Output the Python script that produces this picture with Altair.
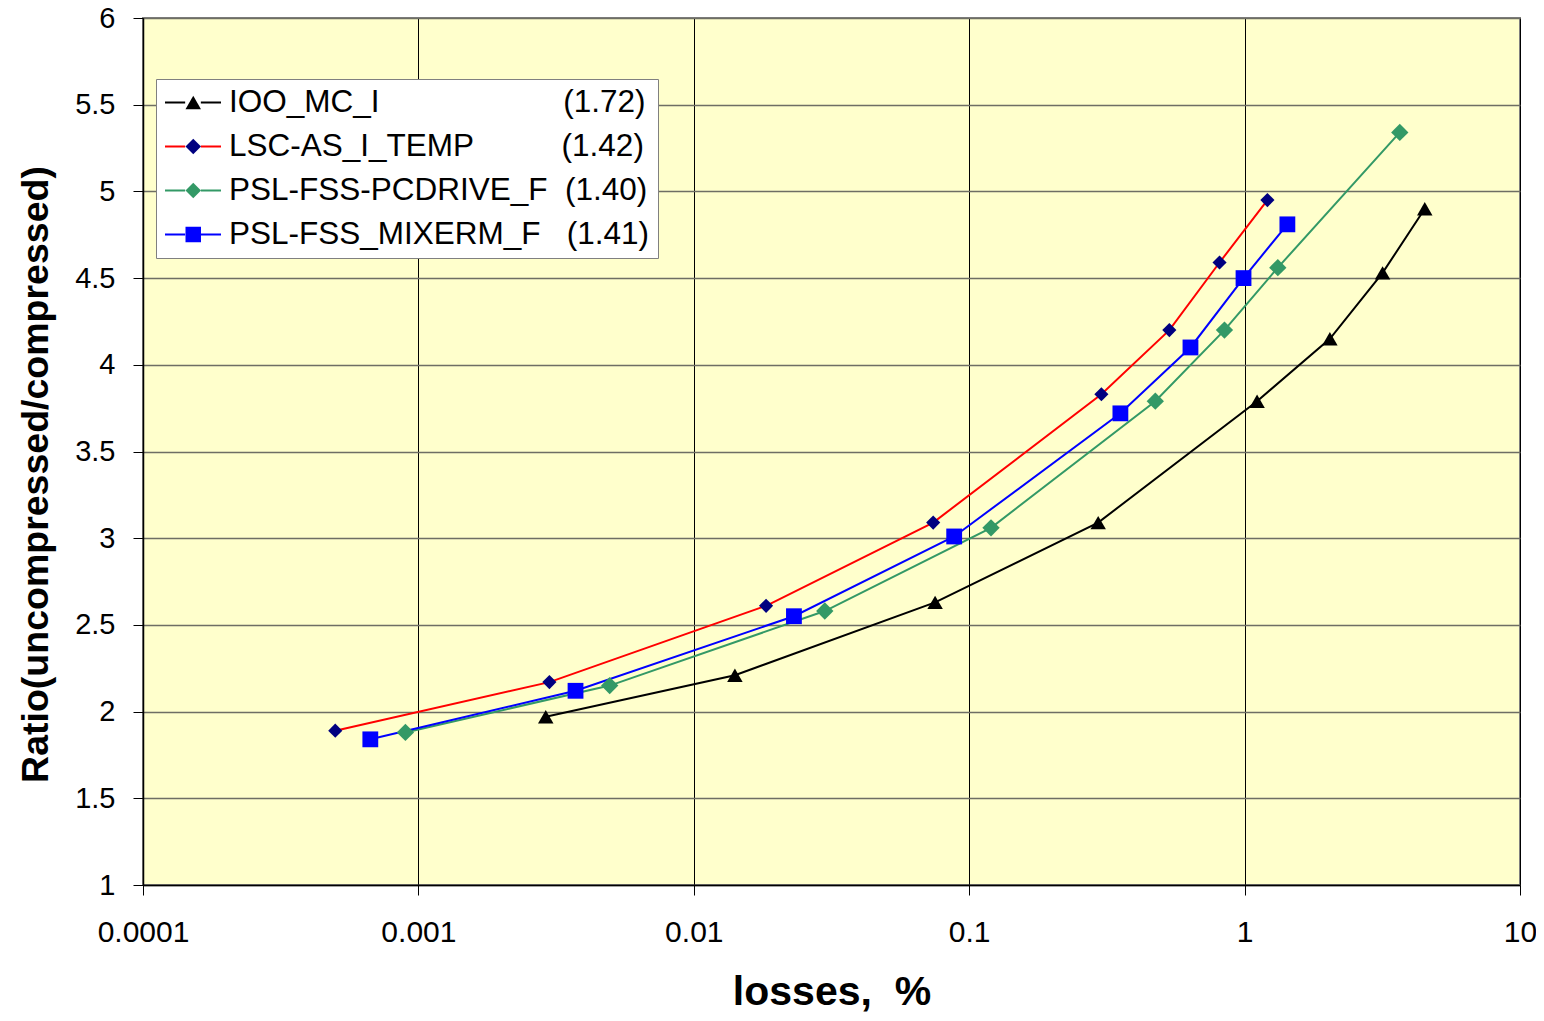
import altair as alt
import pandas as pd

NB = "\u00a0"

series_names = ["IOO_MC_I", "LSC-AS_I_TEMP", "PSL-FSS-PCDRIVE_F", "PSL-FSS_MIXERM_F"]
series_values = ["(1.72)", "(1.42)", "(1.40)", "(1.41)"]
pad_spaces = [21, 10, 2, 3]
legend_labels = [n + NB * k + v for n, k, v in zip(series_names, pad_spaces, series_values)]

line_colors = ["#000000", "#FF0000", "#339966", "#0000FF"]
marker_colors = ["#000000", "#000080", "#339966", "#0000FF"]
marker_shapes = ["triangle-up", "diamond", "diamond", "square"]
marker_sizes = [240, 200, 300, 250]

ioo_x = [0.0029, 0.0141, 0.0752, 0.294, 1.11, 2.04, 3.17, 4.51]
ioo_y = [1.97, 2.21, 2.63, 3.09, 3.79, 4.15, 4.53, 4.90]
lsc_x = [0.000499, 0.00299, 0.0183, 0.074, 0.302, 0.533, 0.811, 1.21]
lsc_y = [1.89, 2.17, 2.61, 3.09, 3.83, 4.20, 4.59, 4.95]
pcd_x = [0.000897, 0.00495, 0.0299, 0.120, 0.474, 0.845, 1.32, 3.66]
pcd_y = [1.88, 2.15, 2.58, 3.06, 3.79, 4.20, 4.56, 5.34]
mix_x = [0.000669, 0.00372, 0.0231, 0.0882, 0.354, 0.636, 0.991, 1.43]
mix_y = [1.84, 2.12, 2.55, 3.01, 3.72, 4.10, 4.50, 4.81]

x_ticks = [0.0001, 0.001, 0.01, 0.1, 1, 10]
y_ticks = [1, 1.5, 2, 2.5, 3, 3.5, 4, 4.5, 5, 5.5, 6]

xs = [ioo_x, lsc_x, pcd_x, mix_x]
ys = [ioo_y, lsc_y, pcd_y, mix_y]
rows = []
for i, (sx, sy) in enumerate(zip(xs, ys)):
    for j, (a, b) in enumerate(zip(sx, sy)):
        rows.append({"x": a, "y": b, "label": legend_labels[i], "key": series_names[i], "order": j})
df = pd.DataFrame(rows)

FONT = "Liberation Sans"

x_enc = alt.X(
    "x:Q",
    scale=alt.Scale(type="log", domain=[0.0001, 10], nice=False),
    axis=alt.Axis(
        values=x_ticks,
        labelExpr="'' + datum.value",
        title="losses," + NB + NB + "%",
        titleFontSize=41,
        titleFontWeight="bold",
        titleFont=FONT,
        titleBaseline="alphabetic",
        titleY=119,
        titleAnchor="middle",
        labelFontSize=30,
        labelFont=FONT,
        labelPadding=22,
        labelColor="#000000",
        grid=True,
        gridColor="#000000",
        gridWidth=1,
        tickSize=10,
        tickColor="#000000",
        domainColor="#000000",
        domainWidth=1.5,
        labelFlush=False,
        labelOverlap=False,
    ),
)
y_enc = alt.Y(
    "y:Q",
    scale=alt.Scale(domain=[1, 6], nice=False, zero=False),
    axis=alt.Axis(
        values=y_ticks,
        labelExpr="'' + datum.value",
        title="Ratio(uncompressed/compressed)",
        titleFontSize=37.5,
        titleFontWeight="bold",
        titleFont=FONT,
        titleBaseline="alphabetic",
        titleAngle=270,
        titleX=-96,
        titleY=456,
        titleAlign="center",
        labelFontSize=29,
        labelFont=FONT,
        labelPadding=18,
        labelColor="#000000",
        grid=True,
        gridColor="#6E6E64",
        gridWidth=1.7,
        tickSize=10,
        tickColor="#000000",
        domainColor="#000000",
        domainWidth=1.5,
        labelOverlap=False,
    ),
)

LEG_PAD = 8
LEG_X = 13
LEG_Y = 61
LEG_FONT = 31.5
LINE_SYM = 56
PT_SYM = 240
PT_OFFSET = 13.5

lines = alt.Chart(df).mark_line(strokeWidth=2).encode(
    x=x_enc,
    y=y_enc,
    order="order:Q",
    stroke=alt.Stroke(
        "label:N",
        scale=alt.Scale(domain=legend_labels, range=line_colors),
        legend=alt.Legend(
            title=None,
            orient="none",
            legendX=LEG_X,
            legendY=LEG_Y,
            symbolType="M-1,0H-0.28M0.28,0H1",
            symbolSize=LINE_SYM * LINE_SYM,
            symbolStrokeWidth=2,
            symbolFillColor="transparent",
            labelFontSize=LEG_FONT,
            labelFont=FONT,
            labelColor="#000000",
            labelLimit=0,
            labelOffset=7,
            clipHeight=31,
            rowPadding=12,
            padding=LEG_PAD,
            fillColor="#FFFFFF",
            strokeColor="#808080",
            zindex=1,
        ),
    ),
)

pt_legend = alt.Legend(
    title=None,
    orient="none",
    legendX=LEG_X,
    legendY=LEG_Y,
    symbolSize=PT_SYM,
    symbolStrokeWidth=0,
    symbolOffset=PT_OFFSET,
    labelFontSize=LEG_FONT,
    labelFont=FONT,
    labelOpacity=0,
    labelLimit=0,
    clipHeight=31,
    rowPadding=12,
    padding=LEG_PAD,
    zindex=2,
)

point_layers = []
for i, name in enumerate(series_names):
    point_layers.append(
        alt.Chart(df)
        .transform_filter(alt.datum.key == name)
        .mark_point(filled=True, opacity=1, strokeWidth=0, size=marker_sizes[i])
        .encode(
            x="x:Q",
            y="y:Q",
            shape=alt.Shape("key:N", scale=alt.Scale(domain=series_names, range=marker_shapes), legend=pt_legend),
            fill=alt.Fill("key:N", scale=alt.Scale(domain=series_names, range=marker_colors), legend=pt_legend),
        )
    )

chart = (
    alt.layer(lines, *point_layers)
    .properties(
        width=1377,
        height=867,
        autosize=alt.AutoSizeParams(type="none"),
        padding={"left": 135, "top": 10, "right": 16, "bottom": 128},
        background="#FFFFFF",
    )
    .configure_view(fill="#FFFFCC", stroke="#808080", strokeWidth=2)
)

chart.save("out.html", embed_options={"renderer": "svg", "actions": False})
